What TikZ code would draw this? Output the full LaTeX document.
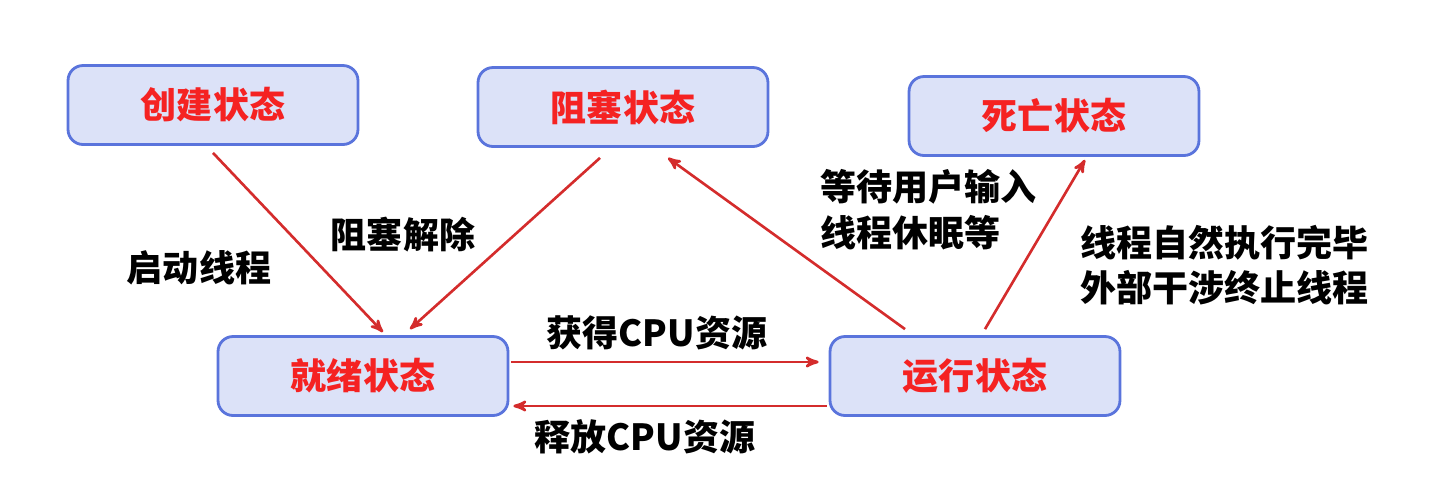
\documentclass[tikz,border=0pt]{standalone}
\usepackage{fontspec}
\setmainfont{Noto Sans CJK SC}
\usepackage{tikz}
\usetikzlibrary{arrows}

\definecolor{boxfill}{HTML}{DCE2F8}
\definecolor{boxline}{HTML}{5A74DC}
\definecolor{statered}{HTML}{F52222}
\definecolor{arrowred}{HTML}{D42C2C}

\begin{document}
\begin{tikzpicture}[x=0.02cm,y=-0.02cm,->,>=stealth',
  state/.style={draw=boxline,line width=1.6pt,fill=boxfill,rounded corners=0.3cm,
    minimum width=5.8cm,minimum height=1.58cm,text=statered,
    font=\fontsize{20.5}{26}\selectfont\bfseries},
  tag/.style={font=\fontsize{20.5}{26}\selectfont\bfseries,inner sep=0pt,align=left},
  every edge/.style={draw=arrowred,line width=1.5pt}]
\useasboundingbox (0,0) rectangle (1451,485);
\node[state] (chuangjian) at (213,105) {创建状态};
\node[state] (zuse) at (623,107) {阻塞状态};
\node[state] (siwang) at (1054,116) {死亡状态};
\node[state] (jiuxu) at (363,376) {就绪状态};
\node[state] (yunxing) at (975,376) {运行状态};
\node[tag] (qidong) at (199,268) {启动线程};
\node[tag] (jiechu) at (403,235) {阻塞解除};
\node[tag,anchor=west] (dengdai) at (820,210) {等待用户输入\\线程休眠等};
\node[tag,anchor=west] (zhongzhi) at (1080,265) {线程自然执行完毕\\外部干涉终止线程};
\node[tag] (huode) at (657,333) {获得CPU资源};
\node[tag] (shifang) at (645,437) {释放CPU资源};
\path ([yshift=-0.14cm]chuangjian.south) edge ([xshift=0.4cm,yshift=0.06cm]jiuxu.north)
([xshift=-0.46cm,yshift=-0.2cm]zuse.south) edge ([xshift=0.94cm,yshift=0.12cm]jiuxu.north)
([xshift=-1.4cm,yshift=0.12cm]yunxing.north) edge ([xshift=0.9cm,yshift=-0.2cm]zuse.south)
([xshift=0.2cm,yshift=0.12cm]yunxing.north) edge ([xshift=0.62cm,yshift=-0.06cm]siwang.south)
([xshift=0.04cm,yshift=0.28cm]jiuxu.east) edge ([xshift=-0.2cm,yshift=0.28cm]yunxing.west)
([xshift=-0.04cm,yshift=-0.6cm]yunxing.west) edge ([xshift=0.08cm,yshift=-0.6cm]jiuxu.east)
;\end{tikzpicture}
\end{document}
